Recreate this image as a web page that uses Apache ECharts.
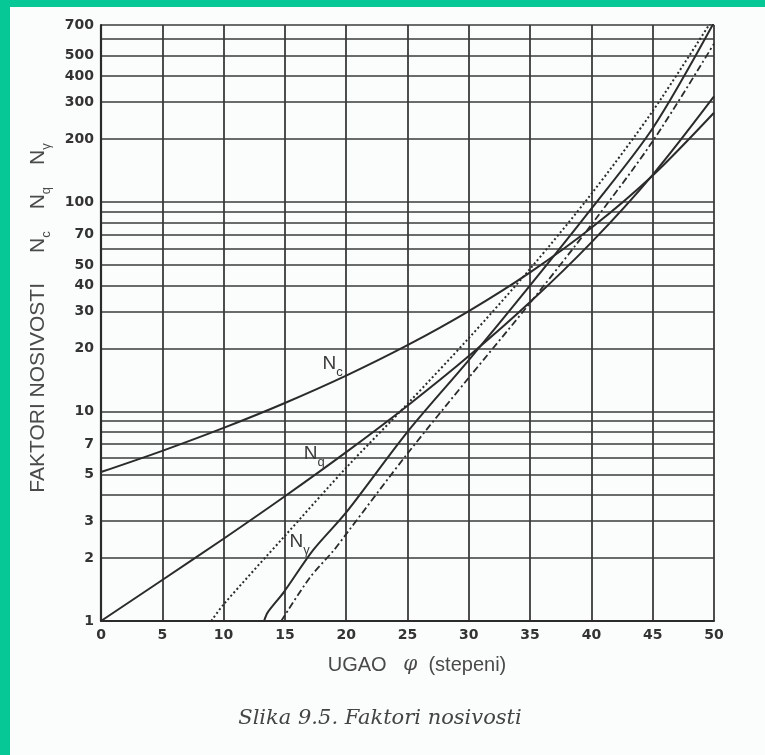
<!DOCTYPE html>
<html><head><meta charset="utf-8">
<script src="https://cdn.jsdelivr.net/npm/echarts@6/dist/echarts.min.js"></script>
<style>html,body{margin:0;padding:0;background:#fbfdfd}#c{width:765px;height:755px}</style>
</head><body><div id="c"></div>
<script>
// ---- data ----
const xTickValues = [0,5,10,15,20,25,30,35,40,45,50];
const yGridValues = [1,2,3,4,5,6,7,8,9,10,20,30,40,50,60,70,80,90,100,200,300,400,500,600,700];
const yLabelValues = [1,2,3,5,7,10,20,30,40,50,70,100,200,300,400,500,700];
const phi = [0,5,10,15,20,25,30,35,40,45,50];
const Nc = [5.14,6.49,8.35,10.98,14.83,20.72,30.14,46.12,75.31,133.9,266.9];
const Nq = [1,1.57,2.47,3.94,6.40,10.66,18.40,33.30,64.20,134.9,319.1];
const NgSolidPhi = [13.3,13.6,14.9,17.3,20,25,30,35,40,45,50];
const NgSolid    = [1,1.1,1.37,2.18,3.3,8.0,17.6,40,93,225,720];
const NgDottedPhi = [9.0,10,15,20,25,30,35,40,45,50];
const NgDotted    = [1,1.2,2.55,5.39,10.88,22.4,48.0,109.4,271.8,762.9];
const NgDashPhi = [14.7,17,19,20,25,30,35,40,45,50];
const NgDash    = [1,1.6,2.18,2.6,6.3,14.5,33,78,195,570];

const zip = (a,b)=>a.map((v,i)=>[v,b[i]]);
const ink = '#2b2b2b';
const grid = '#3a3a3a';
const FF = 'Liberation Sans, Arial, sans-serif';
const subRich = {
  m:{fontSize:19,fontFamily:FF,color:'#3a3a3a',lineHeight:22,verticalAlign:'middle'},
  s:{fontSize:13,fontFamily:FF,color:'#3a3a3a',lineHeight:30,verticalAlign:'bottom'}
};
function lbl(sub){return {show:true,position:'inside',formatter:'{m|N}{s|'+sub+'}',rich:subRich};}

const chart = echarts.init(document.getElementById('c'));
chart.setOption({
  backgroundColor:'#fbfdfd',
  animation:false,
  grid:{left:101,right:51,top:25,bottom:134},
  xAxis:{type:'value',min:0,max:50,interval:5,
    axisLine:{show:true,onZero:false,lineStyle:{color:ink,width:2}},
    axisTick:{show:false},
    axisLabel:{margin:7,color:'#333',fontFamily:'DejaVu Sans',fontWeight:'bold',fontSize:14},
    splitLine:{show:true,lineStyle:{color:grid,width:1.8}}
  },
  yAxis:{type:'log',logBase:10,min:1,max:700,
    axisLine:{show:true,lineStyle:{color:ink,width:2.2}},
    axisTick:{show:false,customValues:yGridValues},
    axisLabel:{customValues:yLabelValues,margin:7,color:'#333',fontFamily:'DejaVu Sans',fontWeight:'bold',fontSize:14},
    splitLine:{show:true,lineStyle:{color:grid,width:1.5}}
  },
  series:[
    {name:'Nc',type:'line',data:zip(phi,Nc),smooth:0.3,symbol:'none',
      lineStyle:{color:ink,width:2},
      markPoint:{symbol:'circle',symbolSize:0,silent:true,data:[{coord:[18.9,16.9],label:lbl('c')}]}},
    {name:'Nq',type:'line',data:zip(phi,Nq),smooth:0.3,symbol:'none',
      lineStyle:{color:ink,width:2},
      markPoint:{symbol:'circle',symbolSize:0,silent:true,data:[{coord:[17.4,6.27],label:lbl('q')}]}},
    {name:'Ng',type:'line',data:zip(NgSolidPhi,NgSolid),smooth:0.3,symbol:'none',
      lineStyle:{color:ink,width:2},
      markPoint:{symbol:'circle',symbolSize:0,silent:true,data:[{coord:[16.2,2.38],label:lbl('γ')}]}},
    {name:'NgDot',type:'line',data:zip(NgDottedPhi,NgDotted),smooth:0.3,symbol:'none',
      lineStyle:{color:ink,width:2,type:[2,2.5]}},
    {name:'NgDash',type:'line',data:zip(NgDashPhi,NgDash),smooth:0.3,symbol:'none',
      lineStyle:{color:ink,width:1.8,type:[7,3,2,3]}}
  ],
  graphic:[
    {type:'rect',shape:{x:0,y:0,width:765,height:7},style:{fill:'#05C896'},silent:true},
    {type:'rect',shape:{x:0,y:0,width:10,height:755},style:{fill:'#05C896'},silent:true},
    {type:'text',x:38,y:318,rotation:Math.PI/2,silent:true,
      style:{text:'{m|FAKTORI NOSIVOSTI}{g|}{m|N}{s|c}{h|}{m|N}{s|q}{h|}{m|N}{s|γ}',align:'center',verticalAlign:'middle',
        rich:{m:{fontSize:21,fontFamily:FF,fill:'#4a4a4a',lineHeight:22,verticalAlign:'middle'},
              s:{fontSize:13,fontFamily:FF,fill:'#4a4a4a',lineHeight:30,verticalAlign:'bottom'},
              g:{width:30,fontSize:21},h:{width:22,fontSize:21}}}},
    {type:'text',x:417,y:665,silent:true,
      style:{text:'{a|UGAO   }{p|φ}{a|  (stepeni)}',align:'center',verticalAlign:'middle',
        rich:{a:{fontSize:20,fontFamily:FF,fill:'#4a4a4a'},
              p:{fontSize:20,fontStyle:'italic',fontFamily:'DejaVu Serif',fill:'#4a4a4a'}}}},
    {type:'text',x:380,y:719,silent:true,
      style:{text:'Slika 9.5. Faktori nosivosti',align:'center',verticalAlign:'middle',
        font:'italic 21px "DejaVu Serif"',fill:'#444'}}
  ]
});
</script></body></html>
